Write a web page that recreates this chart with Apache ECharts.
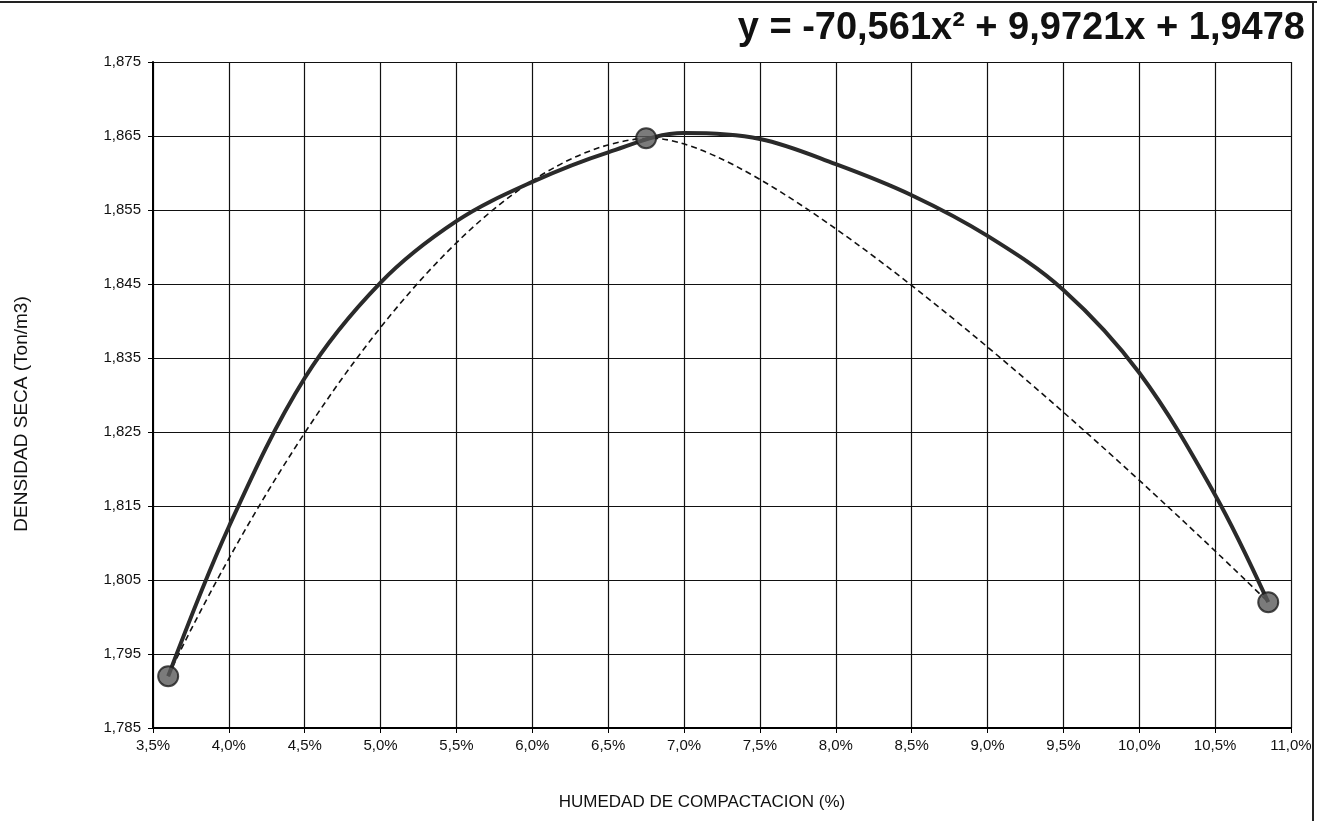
<!DOCTYPE html>
<html>
<head>
<meta charset="utf-8">
<script src="https://cdn.jsdelivr.net/npm/echarts@6/dist/echarts.min.js"></script>
<style>
html,body{margin:0;padding:0;background:#fff;}
#chart{width:1317px;height:821px;}
</style>
</head>
<body>
<div id="chart"></div>
<script>
// ---- data ----
const xTickLabels = ['3,5%','4,0%','4,5%','5,0%','5,5%','6,0%','6,5%','7,0%','7,5%','8,0%','8,5%','9,0%','9,5%','10,0%','10,5%','11,0%'];
const yTickLabels = ['1,785','1,795','1,805','1,815','1,825','1,835','1,845','1,855','1,865','1,875'];
// measured points (humedad %, densidad seca Ton/m3)
const pointHumedad = [3.6, 6.75, 10.85];
const pointDensidad = [1.792, 1.8647, 1.802];
// polynomial trend curve
const trendHumedad = [3.6, 4.0, 4.5, 5.0, 5.5, 6.0, 6.5, 7.0, 7.5, 8.0, 8.5, 9.0, 9.5, 10.0, 10.5, 10.85];
const trendDensidad = [1.792, 1.8122, 1.8323, 1.8452, 1.8535, 1.8588, 1.8628, 1.8654, 1.8646, 1.8612, 1.8570, 1.8515, 1.8442, 1.8330, 1.8165, 1.802];
const equationText = 'y = -70,561x² + 9,9721x + 1,9478';
const xTitle = 'HUMEDAD DE COMPACTACION (%)';
const yTitle = 'DENSIDAD SECA (Ton/m3)';

const pts = pointHumedad.map((x, i) => [x, pointDensidad[i]]);
const trend = trendHumedad.map((x, i) => [x, trendDensidad[i]]);

// smoothed (dashed) line through the measured points, drawn in pixel space
// from the axis scales (api.coord); separate smoothing on each side, like the spreadsheet curve
const SMOOTH_LEFT = 0.45, SMOOTH_RIGHT = 0.25;
function renderSmoothed(params, api) {
  if (params.dataIndex !== 0) return;
  const p = pts.map(d => api.coord(d));
  const path = ['M', p[0][0], p[0][1]];
  for (let i = 0; i < p.length - 1; i++) {
    const a = p[i], b = p[i + 1];
    const cpA = ctrl(p, i, 'next'), cpB = ctrl(p, i + 1, 'prev');
    path.push('C', cpA[0], cpA[1], cpB[0], cpB[1], b[0], b[1]);
  }
  return {type: 'path', shape: {pathData: path.join(' ')},
          style: {fill: 'none', stroke: '#111', lineWidth: 1.6, lineDash: [6, 4]}};
}
function ctrl(p, i, side) {
  if (i === 0 || i === p.length - 1) return p[i];
  const prev = p[i - 1], cur = p[i], next = p[i + 1];
  const s = side === 'next' ? SMOOTH_RIGHT : SMOOTH_LEFT;
  const vx = (next[0] - prev[0]) * s, vy = (next[1] - prev[1]) * s;
  const d0 = Math.hypot(cur[0] - prev[0], cur[1] - prev[1]);
  const d1 = Math.hypot(next[0] - cur[0], next[1] - cur[1]);
  const r = d1 / (d0 + d1);
  return side === 'next' ? [cur[0] + vx * r, cur[1] + vy * r]
                         : [cur[0] - vx * (1 - r), cur[1] - vy * (1 - r)];
}

const chart = echarts.init(document.getElementById('chart'), null, {renderer: 'canvas'});
const font = '"Liberation Sans", Arial, sans-serif';
const option = {
  backgroundColor: '#fff',
  animation: false,
  grid: {left: 153, right: 26, top: 62, bottom: 93},
  xAxis: {
    type: 'value', min: 3.5, max: 11, interval: 0.5,
    name: xTitle, nameLocation: 'middle', nameGap: 66,
    nameTextStyle: {fontFamily: font, fontSize: 17, color: '#111', padding: [0, 40, 0, 0]},
    axisLine: {show: true, onZero: false, lineStyle: {color: '#000', width: 2}},
    axisTick: {show: true, inside: false, length: 5, lineStyle: {color: '#000'}},
    axisLabel: {fontFamily: font, fontSize: 15, color: '#111', margin: 10,
      formatter: (v) => xTickLabels[Math.round((v - 3.5) / 0.5)]},
    splitLine: {show: true, lineStyle: {color: '#111', width: 1.2}}
  },
  yAxis: {
    type: 'value', min: 1.785, max: 1.875, interval: 0.01,
    name: yTitle, nameLocation: 'middle', nameGap: 122, nameRotate: 90,
    nameTextStyle: {fontFamily: font, fontSize: 19, color: '#111', padding: [0, 38, 0, 0]},
    axisLine: {show: true, onZero: false, lineStyle: {color: '#000', width: 2}},
    axisTick: {show: true, inside: false, length: 5, lineStyle: {color: '#000'}},
    axisLabel: {fontFamily: font, fontSize: 15, color: '#111', margin: 12,
      formatter: (v) => yTickLabels[Math.round((v - 1.785) / 0.01)]},
    splitLine: {show: true, lineStyle: {color: '#111', width: 1.2}}
  },
  graphic: [
    {type: 'text', right: 12, top: 10, z: 10,
     style: {text: equationText, font: 'bold 38px ' + font, fill: '#111'}},
    {type: 'line', shape: {x1: 0, y1: 2, x2: 1317, y2: 2}, style: {stroke: '#222', lineWidth: 2}},
    {type: 'line', shape: {x1: 1313, y1: 2, x2: 1313, y2: 821}, style: {stroke: '#222', lineWidth: 2}}
  ],
  series: [
    {type: 'line', name: 'tendencia', data: trend, smooth: 0.35, showSymbol: false, symbol: 'none',
     lineStyle: {color: '#2a2a2a', width: 4}, z: 3},
    {type: 'custom', name: 'curva', data: pts, renderItem: renderSmoothed, z: 2, silent: true},
    {type: 'scatter', name: 'puntos', data: pts, symbol: 'circle', symbolSize: 20,
     itemStyle: {color: '#5a5a5a', borderColor: '#1a1a1a', borderWidth: 2}, z: 5}
  ]
};
chart.setOption(option);
</script>
</body>
</html>
